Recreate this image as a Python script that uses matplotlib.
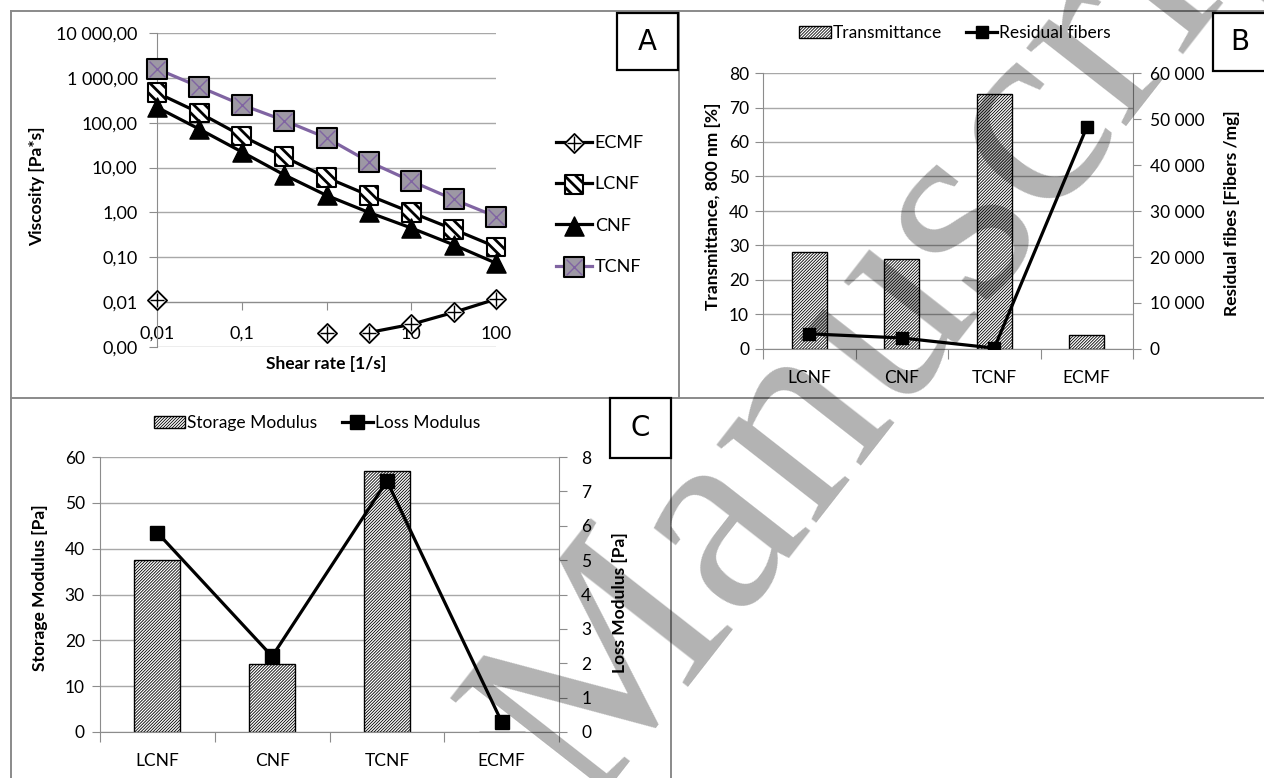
import numpy as np
import matplotlib
matplotlib.use('Agg')
import matplotlib.pyplot as plt
from matplotlib.lines import Line2D
from matplotlib.patches import Rectangle
from matplotlib.legend_handler import HandlerTuple
from matplotlib.ticker import FixedLocator, FuncFormatter, NullLocator

plt.rcParams['font.family'] = ['Lato', 'DejaVu Sans']

# --- data -------------------------------------------------------------
# A: viscosity vs shear rate
shear_rate = [0.01, 0.0316, 0.1, 0.316, 1, 3.16, 10, 31.6, 100]
visc_tcnf = [1585, 631, 251, 112, 46, 13.5, 5.0, 1.95, 0.81]
visc_lcnf = [464, 166, 51, 17.4, 6.0, 2.4, 1.0, 0.42, 0.17]
visc_cnf = [221, 72, 22.4, 6.9, 2.4, 1.0, 0.45, 0.19, 0.074]
visc_ecmf = [0.011, np.nan, np.nan, np.nan, 0.0021, 0.0021, 0.0032, 0.0059, 0.0117]
shear_ticks = [0.01, 0.1, 1, 10, 100]
shear_labels = ['0,01', '0,1', '1', '10', '100']

# B and C: per sample
samples = ['LCNF', 'CNF', 'TCNF', 'ECMF']
transmittance = [28, 26, 74, 4]
residual_fibers = [3300, 2400, 200, 48200]
storage_modulus = [37.6, 14.8, 56.9, 0.1]
loss_modulus = [5.8, 2.2, 7.3, 0.3]

W, H = 1264, 778
GRAY = '#8c8c8c'
GRID = '#a8a8a8'
BAR_HATCH = '/' * 11


def fx(px):
    return px / W


def fy(py):
    return 1 - py / H


def space_thousands(v, decimals=0):
    s = f"{v:,.{decimals}f}"
    return s.replace(',', ' ').replace('.', ',')


fig = plt.figure(figsize=(W / 100, H / 100), dpi=100)

# --- panel A ----------------------------------------------------------
axA = fig.add_axes([fx(157), fy(347), (496 - 157) / W, (347 - 33) / H])
axA.set_xscale('log')
axA.set_yscale('log')
axA.set_xlim(0.01, 100)
axA.set_ylim(0.001, 10000)
axA.yaxis.set_major_locator(FixedLocator([10.0 ** k for k in range(-3, 5)]))
axA.yaxis.set_minor_locator(NullLocator())
axA.yaxis.set_major_formatter(FuncFormatter(lambda v, p: space_thousands(v, 2)))
axA.xaxis.set_major_locator(FixedLocator(shear_ticks))
axA.xaxis.set_minor_locator(NullLocator())
axA.set_xticklabels(shear_labels)
axA.grid(axis='y', color=GRID, lw=1)
axA.spines[['top', 'right']].set_visible(False)
axA.spines['bottom'].set_position(('data', 0.01))
for s in ['left', 'bottom']:
    axA.spines[s].set_color(GRAY)
axA.tick_params(axis='y', direction='out', length=6, color=GRAY, pad=8, labelsize=13)
axA.tick_params(axis='x', direction='out', length=6, color=GRAY, pad=11, labelsize=13)

lw = 2.3
l_ecmf, = axA.plot(shear_rate[5:], visc_ecmf[5:], color='black', lw=lw, zorder=3)
plt.rcParams['hatch.linewidth'] = 2.0
sc_ecmf = axA.scatter(shear_rate, visc_ecmf, marker='D', s=95, facecolor='white',
                      edgecolor='black', linewidths=1.3, zorder=4, clip_on=False)
pl_ecmf = axA.scatter(shear_rate, visc_ecmf, marker='+', s=90, color='black',
                      linewidths=1.0, zorder=5, clip_on=False)

l_lcnf, = axA.plot(shear_rate, visc_lcnf, color='black', lw=lw, zorder=3)
sc_lcnf = axA.scatter(shear_rate, visc_lcnf, marker='s', s=180, facecolor='white',
                      edgecolor='black', hatch='\\\\\\', linewidths=1.5, zorder=4, clip_on=False)

l_cnf, = axA.plot(shear_rate, visc_cnf, color='black', lw=lw, zorder=3)
sc_cnf = axA.scatter(shear_rate, visc_cnf, marker='^', s=190, color='black',
                     zorder=4, clip_on=False)

l_tcnf, = axA.plot(shear_rate, visc_tcnf, color='#8064a2', lw=lw, zorder=3)
sc_tcnf = axA.scatter(shear_rate, visc_tcnf, marker='s', s=200, facecolor='#9d98a4',
                      edgecolor='black', linewidths=1.5, zorder=4, clip_on=False)
x_tcnf = axA.scatter(shear_rate, visc_tcnf, marker='x', s=130, color='#8064a2',
                     linewidths=1.0, zorder=5, clip_on=False)

fig.legend([(l_ecmf, sc_ecmf, pl_ecmf), (l_lcnf, sc_lcnf), (l_cnf, sc_cnf), (l_tcnf, sc_tcnf, x_tcnf)],
           ['ECMF', 'LCNF', 'CNF', 'TCNF'],
           handler_map={tuple: HandlerTuple(ndivide=1)},
           loc='center left', bbox_to_anchor=(fx(556), fy(205)), frameon=False,
           borderpad=0, borderaxespad=0, handlelength=2.0, handletextpad=0.15,
           labelspacing=1.4, fontsize=13, scatterpoints=1)

fig.text(fx(37), fy(186), 'Viscosity [Pa*s]', rotation=90, ha='center', va='center',
         fontsize=12.5, fontweight='bold')
fig.text(fx(326), fy(364), 'Shear rate [1/s]', ha='center', va='center',
         fontsize=12.5, fontweight='bold')

plt.rcParams['hatch.linewidth'] = 0.6


def category_axes(ax, ax2, labels):
    n = len(labels)
    ax.set_xlim(-0.5, n - 0.5)
    ax.set_xticks(np.arange(n + 1) - 0.5)
    ax.set_xticklabels([])
    ax.set_xticks(np.arange(n), minor=True)
    ax.set_xticklabels(labels, minor=True)
    ax.tick_params(axis='x', which='major', length=7, color=GRAY, direction='out')
    ax.tick_params(axis='x', which='minor', length=0, pad=15, labelsize=12.5)
    ax.tick_params(axis='y', length=6, color=GRAY, pad=4, labelsize=12.5)
    ax2.tick_params(axis='y', length=6, color=GRAY, pad=6, labelsize=12.5)
    ax.spines[['top', 'right']].set_visible(False)
    ax2.spines[['top', 'left', 'bottom']].set_visible(False)
    ax.spines['left'].set_color(GRAY)
    ax.spines['bottom'].set_color(GRAY)
    ax2.spines['right'].set_color(GRAY)
    ax.grid(axis='y', color=GRID, lw=1)
    ax.set_axisbelow(True)


# --- panel B ----------------------------------------------------------
axB = fig.add_axes([fx(763), fy(349), (1133 - 763) / W, (349 - 73) / H])
axB2 = axB.twinx()
xs = np.arange(len(samples))
bars_b = axB.bar(xs, transmittance, width=0.38, facecolor='white', edgecolor='black',
                 hatch=BAR_HATCH, lw=1.0)
line_b, = axB2.plot(xs, residual_fibers, color='black', lw=2.3, marker='s', ms=9)
axB.set_ylim(0, 80)
axB.set_yticks(range(0, 81, 10))
axB2.set_ylim(0, 60000)
axB2.set_yticks(range(0, 60001, 10000))
axB2.yaxis.set_major_formatter(FuncFormatter(lambda v, p: space_thousands(v)))
category_axes(axB, axB2, samples)
fig.legend([bars_b, line_b], ['Transmittance', 'Residual fibers'], ncol=2,
           loc='center', bbox_to_anchor=(fx(955), fy(33)), frameon=False,
           handlelength=1.8, handletextpad=0.1, columnspacing=1.4, fontsize=12.5)
fig.text(fx(713), fy(206), 'Transmittance, 800 nm [%]', rotation=90, ha='center',
         va='center', fontsize=12.5, fontweight='bold')
fig.text(fx(1232), fy(213), 'Residual fibes [Fibers /mg]', rotation=90, ha='center',
         va='center', fontsize=12.5, fontweight='bold')

# --- panel C ----------------------------------------------------------
axC = fig.add_axes([fx(100), fy(732), (559 - 100) / W, (732 - 457) / H])
axC2 = axC.twinx()
bars_c = axC.bar(xs, storage_modulus, width=0.40, facecolor='white', edgecolor='black',
                 hatch=BAR_HATCH, lw=1.0)
line_c, = axC2.plot(xs, loss_modulus, color='black', lw=2.3, marker='s', ms=10)
axC.set_ylim(0, 60)
axC.set_yticks(range(0, 61, 10))
axC2.set_ylim(0, 8)
axC2.set_yticks(range(0, 9))
category_axes(axC, axC2, samples)
axC.tick_params(axis='y', pad=5)
axC2.tick_params(axis='y', pad=10)
fig.legend([bars_c, line_c], ['Storage Modulus', 'Loss Modulus'], ncol=2,
           loc='center', bbox_to_anchor=(fx(317), fy(423)), frameon=False,
           handlelength=1.8, handletextpad=0.1, columnspacing=1.4, fontsize=12.5)
fig.text(fx(40), fy(588), 'Storage Modulus [Pa]', rotation=90, ha='center',
         va='center', fontsize=12.5, fontweight='bold')
fig.text(fx(620), fy(603), 'Loss Modulus [Pa]', rotation=90, ha='center',
         va='center', fontsize=12.5, fontweight='bold')

# --- panel frames and letters -----------------------------------------
frame = dict(color='#8a8a8a', lw=1.4, transform=fig.transFigure)
for (x0, y0), (x1, y1) in [((11, 11), (1264, 11)), ((11, 11), (11, 778)),
                           ((11, 398), (1264, 398)), ((679, 11), (679, 398)),
                           ((671, 398), (671, 778))]:
    fig.add_artist(Line2D([fx(x0), fx(x1)], [fy(y0), fy(y1)], **frame))

for letter, (x0, y0, x1, y1) in [('A', (617, 13, 678, 70)), ('B', (1213, 13, 1270, 71)),
                                 ('C', (610, 398, 671, 458))]:
    fig.add_artist(Rectangle((fx(x0), fy(y1)), (x1 - x0) / W, (y1 - y0) / H,
                             transform=fig.transFigure, facecolor='white',
                             edgecolor='black', lw=1.6, zorder=5))
    cx = (x0 + min(x1, 1264)) / 2 if letter != 'B' else 1240
    fig.text(fx(cx), fy((y0 + y1) / 2), letter, ha='center', va='center',
             fontsize=20, family='DejaVu Sans', zorder=6)

# watermark (baseline starts below the page edge)
fig.text(fx(585), fy(810), 'Manuscript', rotation=52, rotation_mode='anchor',
         ha='left', va='baseline', fontsize=198, family='Liberation Serif',
         color='black', alpha=0.3, zorder=20)

fig.savefig('out.png', dpi=100)
